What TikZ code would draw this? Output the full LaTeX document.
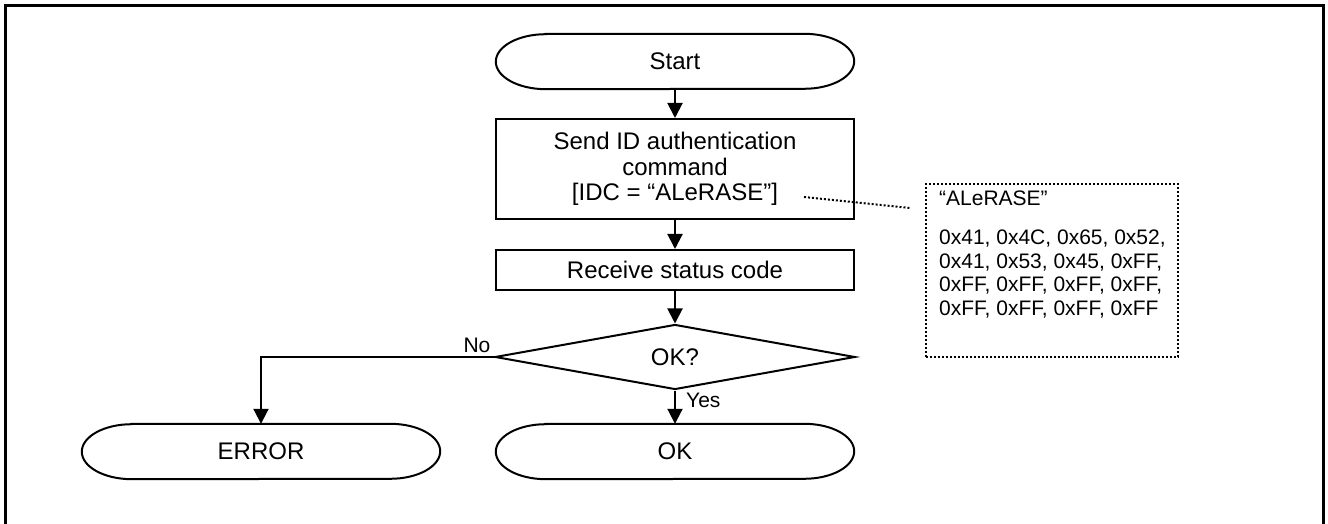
\documentclass[tikz,border=0pt]{standalone}
\usepackage{fontspec}
\setmainfont{Liberation Sans}
\usetikzlibrary{arrows.meta,shapes.geometric}
\tikzset{
  shapeline/.style={draw=black, line width=2pt},
  mainfont/.style={font=\fontsize{24}{25.5}\selectfont},
  smallfont/.style={font=\fontsize{21}{23.4}\selectfont},
  term/.style={mainfont, minimum width=358pt, minimum height=55pt, inner sep=0pt},
  procbox/.style={shapeline, mainfont, minimum width=358pt, inner sep=0pt, align=center},
  decision/.style={shapeline, diamond, mainfont, minimum width=360pt, minimum height=56pt, inner sep=0pt},
  arr/.style={line width=2pt, -{Triangle[length=15pt,width=15pt]}},
  lbl/.style={smallfont, inner sep=0pt},
  dotline/.style={line width=2pt, dash pattern=on 2pt off 2pt},
}
\newcommand\termshape[1]{%
  \draw[shapeline] ([xshift=50pt]#1.north west) -- ([xshift=-50pt]#1.north east)
    arc[start angle=90, end angle=-90, x radius=50pt, y radius=27.5pt]
    -- ([xshift=50pt]#1.south west)
    arc[start angle=270, end angle=90, x radius=50pt, y radius=27.5pt] -- cycle;}
\begin{document}
\begin{tikzpicture}[x=1pt, y=1pt]
\useasboundingbox (0,0) rectangle (1328,524);
% frame
\draw[line width=3pt] (5.5,0) -- (5.5,524-6) -- (1323.5,524-6) -- (1323.5,0);

% nodes
\node[term] (start) at (675,524-61.5) {Start};
\termshape{start}
\node[procbox, minimum height=100pt] (b1) at (675,524-169) {Send ID authentication\\command\\{}[IDC = “ALeRASE”]};
\node[procbox, minimum height=40pt] (b2) at (675,524-270) {Receive status code};
\node[decision] (dec) at (675,524-357) {OK?};
\node[term] (ok) at (675,524-451.5) {OK};
\termshape{ok}
\node[term] (err) at (261,524-451.5) {ERROR};
\termshape{err}

% connectors
\draw[arr] (start.south) -- (b1.north);
\draw[arr] (b1.south) -- (b2.north);
\draw[arr] (b2.south) -- (dec.north);
\draw[arr] (dec.south) -- (ok.north);
\draw[arr] (dec.west) -| (err.north);
\node[lbl] (no) at (477,524-345) {No};
\node[lbl, anchor=west] (yes) at (686,524-400) {Yes};

% callout
\node[dotline, draw, minimum width=252pt, minimum height=173pt, inner sep=0pt] (callout) at (1052,524-270.5) {};
\node[smallfont, anchor=base west, inner sep=0pt] (ctitle) at (939,524-206) {“ALeRASE”};
\node[smallfont, anchor=north west, inner sep=0pt, align=left] (chex) at (939,524-230) {0x41, 0x4C, 0x65, 0x52,\\0x41, 0x53, 0x45, 0xFF,\\0xFF, 0xFF, 0xFF, 0xFF,\\0xFF, 0xFF, 0xFF, 0xFF};
\coordinate (ca) at (804,524-197);
\coordinate (cb) at (910,524-208);
\draw[dotline] (ca) -- (cb);
\end{tikzpicture}
\end{document}
